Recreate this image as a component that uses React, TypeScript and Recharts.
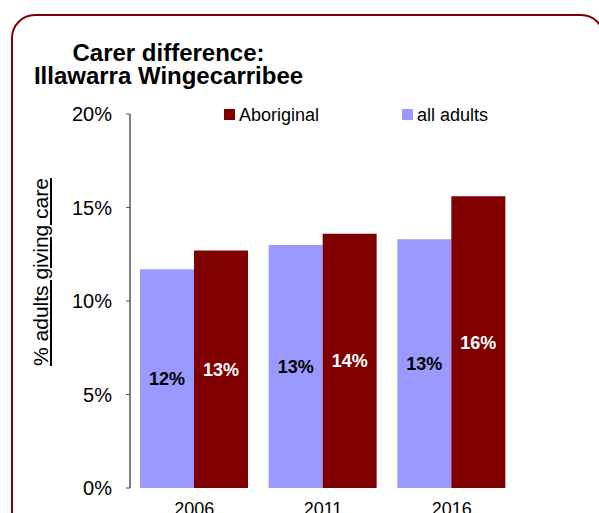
import React from 'react';
import { BarChart, Bar, XAxis, YAxis, LabelList, Legend } from 'recharts';

const years = ['2006', '2011', '2016'];
const allAdults = [11.7, 13.0, 13.3];
const aboriginal = [12.7, 13.6, 15.6];
const yTicks = [0, 5, 10, 15, 20];
const titleLines = ['Carer difference:', 'Illawarra Wingecarribee'];
const yAxisTitle = '% adults giving care';
const legendItems = [
  { name: 'Aboriginal', color: '#800000' },
  { name: 'all adults', color: '#9999ff' },
];

const FONT = '"Liberation Sans", Arial, Helvetica, sans-serif';

const data = years.map((y, i) => ({ year: y, all: allAdults[i], abo: aboriginal[i] }));

const pct = (v: any) => `${Math.round(Number(v))}%`;

const LegendContent = () => (
  <div style={{ position: 'relative', width: 280, height: 22, fontFamily: FONT }}>
    {legendItems.map((it, i) => (
      <div key={it.name} style={{ position: 'absolute', left: i * 178, top: 0, height: 22 }}>
        <div style={{ position: 'absolute', left: 0, top: 5, width: 11, height: 11, background: it.color }} />
        <div style={{ position: 'absolute', left: 15, top: 0, lineHeight: '22px', fontSize: 18, color: '#000', whiteSpace: 'nowrap' }}>
          {it.name}
        </div>
      </div>
    ))}
  </div>
);

export default function App() {
  return (
    <div style={{ position: 'fixed', left: 0, top: 0, width: 599, height: 513, overflow: 'hidden', background: '#fff', fontFamily: FONT }}>
      <div style={{ position: 'absolute', left: 11, top: 14, width: 594, height: 560, border: '2.5px solid #800000', borderRadius: 24, boxSizing: 'border-box' }} />
      <div style={{ position: 'absolute', left: 0, top: 40.5, width: 337, textAlign: 'center', fontWeight: 'bold', fontSize: 24, lineHeight: '23.5px', color: '#000' }}>
        {titleLines.map((t) => (
          <div key={t}>{t}</div>
        ))}
      </div>
      <div style={{ position: 'absolute', left: 0, top: 0 }}>
        <BarChart
          width={599}
          height={513}
          data={data}
          margin={{ top: 114, right: 83, bottom: 0, left: 0 }}
          barCategoryGap={10}
          barGap={0}
          style={{ fontFamily: FONT }}
        >
          <XAxis
            dataKey="year"
            height={25}
            axisLine={false}
            tickLine={false}
            tickSize={0}
            tickMargin={14}
            tick={{ fill: '#000', fontSize: 18 }}
          />
          <YAxis
            width={130}
            domain={[0, 20]}
            ticks={yTicks}
            tickFormatter={(v: any) => `${v}%`}
            axisLine={{ stroke: '#000', strokeWidth: 1 }}
            tickLine={{ stroke: '#555' }}
            tickSize={4}
            tickMargin={14}
            tick={{ fill: '#000', fontSize: 20 }}
            interval={0}
          />
          <Legend
            layout="vertical"
            align="center"
            verticalAlign="middle"
            wrapperStyle={{ top: 104, left: 224, width: 280, height: 22 }}
            content={LegendContent}
          />
          <Bar dataKey="all" name="all adults" fill="#9999ff" isAnimationActive={false}>
            <LabelList dataKey="all" position="center" formatter={pct} fill="#000" fontSize={18} fontWeight="bold" />
          </Bar>
          <Bar dataKey="abo" name="Aboriginal" fill="#800000" isAnimationActive={false}>
            <LabelList dataKey="abo" position="center" formatter={pct} fill="#fff" fontSize={18} fontWeight="bold" />
          </Bar>
        </BarChart>
      </div>
      <div
        style={{
          position: 'absolute',
          left: 41 - 130,
          top: 271.5 - 12,
          width: 260,
          height: 24,
          lineHeight: '24px',
          textAlign: 'center',
          fontSize: 21,
          color: '#000',
          textDecoration: 'underline',
          transform: 'rotate(-90deg)',
          transformOrigin: '50% 50%',
          whiteSpace: 'nowrap',
        }}
      >
        {yAxisTitle}
      </div>
    </div>
  );
}
